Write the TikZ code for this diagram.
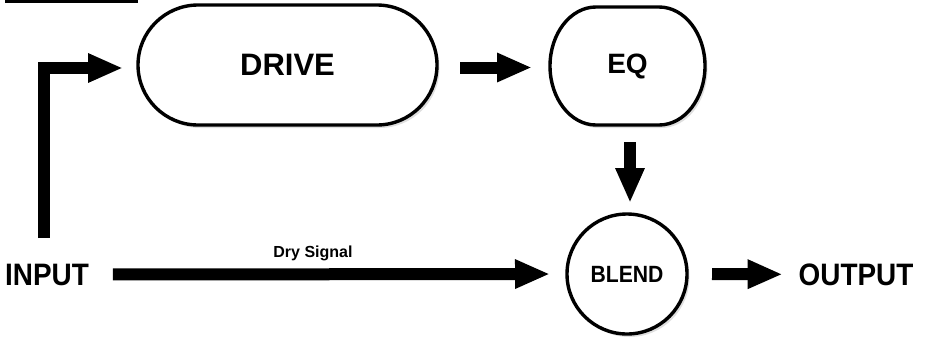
\documentclass[tikz,border=0pt]{standalone}
\usepackage{fontspec}
\setmainfont{Liberation Sans}
\newfontfamily\narrowfont{Liberation Sans}[FakeStretch=0.9]
\usetikzlibrary{arrows.meta,shapes.misc,shadows,backgrounds}
\begin{document}
\begin{tikzpicture}[x=1pt,y=-1pt,
  boxline/.style={line width=3.4pt,fill=white,
    drop shadow={shadow xshift=2.5pt,shadow yshift=-3pt,opacity=0.25}},
  bigarrow/.style={line width=12pt,line join=miter,
    -{Triangle[length=35pt,width=27pt]}},
  plain/.style={inner sep=0pt,outer sep=0pt}
]
\useasboundingbox (0,0) rectangle (925,338);
% cropped heading underline
\draw[line width=2.5pt] (5,1.5) -- (138,1.5);

% boxes
\node[plain, rounded rectangle, draw, boxline, minimum width=299pt, minimum height=120pt]
  (drive) at (287.5,65) {\fontsize{31}{36}\selectfont\bfseries DRIVE};
\node[plain, minimum width=155pt, minimum height=118pt]
  (eq) at (627.5,66) {\fontsize{28}{34}\selectfont\bfseries EQ};
\begin{scope}[on background layer]
  \draw[boxline] ([xshift=46pt]eq.north west) -- ([xshift=-46pt]eq.north east)
    arc[start angle=90, end angle=-90, x radius=46pt, y radius=59pt]
    -- ([xshift=46pt]eq.south west)
    arc[start angle=270, end angle=90, x radius=46pt, y radius=59pt] -- cycle;
\end{scope}
\node[plain, circle, draw, boxline, minimum size=120pt]
  (blend) at (627,274) {\narrowfont\fontsize{23.5}{28}\selectfont\bfseries BLEND};

% texts
\node[plain, anchor=base] (input) at (47,285) {\narrowfont\fontsize{31}{36}\selectfont\bfseries INPUT};
\node[plain, anchor=base] (output) at (856,285) {\narrowfont\fontsize{31}{36}\selectfont\bfseries OUTPUT};
\node[plain, anchor=base] (dry) at (313,257) {\fontsize{16}{19}\selectfont\bfseries Dry Signal};

% connectors
\coordinate (inup) at (44,238);
\draw[bigarrow, shorten >=15pt] (inup) |- ([yshift=-3pt]drive.west);
\draw[bigarrow, shorten <=23pt, shorten >=18pt]
  ([yshift=-2.5pt]drive.east) -- ([yshift=-2.5pt]drive.east -| eq.west);
\draw[bigarrow, shorten <=17pt, shorten >=11pt]
  ([xshift=2.5pt]eq.south) -- ([xshift=2.5pt]eq.south |- blend.north);
\draw[bigarrow, shorten <=24pt, shorten >=17pt] (input.east) -- (blend.west);
\draw[bigarrow, shorten <=25pt, shorten >=16pt] (blend.east) -- (output.west);
\end{tikzpicture}
\end{document}
